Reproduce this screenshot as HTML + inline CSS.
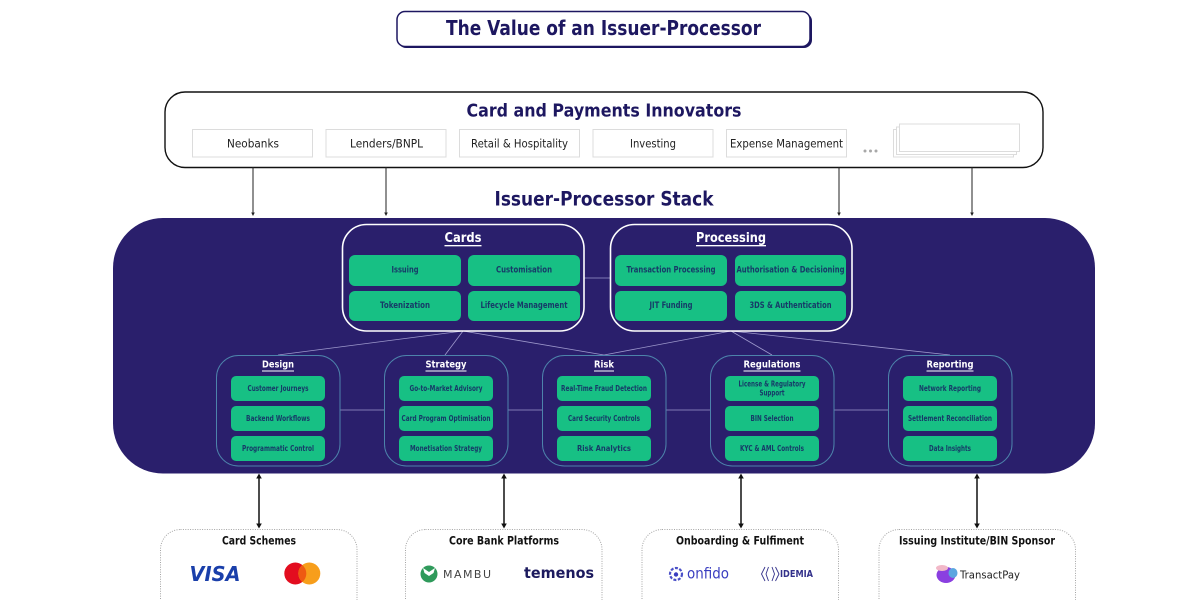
<!DOCTYPE html>
<html lang="en">
<head>
<meta charset="utf-8">
<title>The Value of an Issuer-Processor</title>
<style>
html,body{margin:0;padding:0;background:#fff;width:1200px;height:600px;overflow:hidden}
svg{display:block}
text{font-family:"DejaVu Sans","Liberation Sans",sans-serif;text-anchor:middle;dominant-baseline:central}
.n{fill:#1d1760;font-weight:700}
.s{font-size:11.5px;fill:#222}
.g{font-size:8.500px;font-weight:700;fill:#173a68}
.gs{font-size:7.500px;font-weight:700;fill:#173a68}
.h{fill:#fff;font-weight:700;text-decoration:underline}
.b{font-size:11.500px;font-weight:700;fill:#111}
.w{fill:none;stroke:#fff;stroke-width:1.6}
.t{fill:none;stroke:#4d83ab;stroke-width:1}
.gr{fill:#17c084}
.c{stroke:#9d98cc;stroke-width:.8;fill:none}
.sb{fill:#fff;stroke:#dcdcdc;stroke-width:1}
.d{fill:none;stroke:#a5a5a5;stroke-width:1;stroke-dasharray:1 1.4}
.a{stroke:#222;stroke-width:1}
.k{stroke:#111;stroke-width:1.5}
</style>
</head>
<body>
<svg width="1200" height="600" viewBox="0 0 1200 600" xmlns="http://www.w3.org/2000/svg">
<rect width="1200" height="600" fill="#fff"/>

<!-- Title -->
<rect x="398" y="13" width="414" height="35" rx="8" fill="#1d1760"/>
<rect x="397" y="11.500" width="413" height="35" rx="8" fill="#fff" stroke="#1d1760" stroke-width="1.500"/>
<text x="603.500" y="28" class="n" font-size="20" textLength="315" lengthAdjust="spacingAndGlyphs">The Value of an Issuer-Processor</text>

<!-- Innovators -->
<rect x="165" y="92" width="878" height="75.500" rx="20" fill="#fff" stroke="#111" stroke-width="1.400"/>
<text x="604" y="111" class="n" font-size="18" textLength="275" lengthAdjust="spacingAndGlyphs">Card and Payments Innovators</text>
<rect class="sb" x="192.500" y="129.500" width="120" height="27.500"/>
<rect class="sb" x="326" y="129.500" width="120" height="27.500"/>
<rect class="sb" x="459.500" y="129.500" width="120" height="27.500"/>
<rect class="sb" x="593" y="129.500" width="120" height="27.500"/>
<rect class="sb" x="726.500" y="129.500" width="120" height="27.500"/>
<text x="253" y="143.500" class="s" textLength="52" lengthAdjust="spacingAndGlyphs">Neobanks</text>
<text x="386.500" y="143.500" class="s" textLength="73" lengthAdjust="spacingAndGlyphs">Lenders/BNPL</text>
<text x="519.500" y="143.500" class="s" textLength="97" lengthAdjust="spacingAndGlyphs">Retail &amp; Hospitality</text>
<text x="653" y="143.500" class="s" textLength="46" lengthAdjust="spacingAndGlyphs">Investing</text>
<text x="786.500" y="143.500" class="s" textLength="113" lengthAdjust="spacingAndGlyphs">Expense Management</text>
<circle cx="865" cy="151" r="1.500" fill="#a8a8a8"/><circle cx="870.500" cy="151" r="1.500" fill="#a8a8a8"/><circle cx="876" cy="151" r="1.500" fill="#a8a8a8"/>
<rect class="sb" x="893.500" y="129.500" width="120" height="27.500"/>
<rect class="sb" x="896.500" y="127" width="120" height="27.500"/>
<rect class="sb" x="899.500" y="124" width="120" height="27.500"/>

<!-- Down arrows -->
<g class="a">
<line x1="253" y1="167" x2="253" y2="214"/>
<line x1="386" y1="167" x2="386" y2="214"/>
<line x1="839" y1="167" x2="839" y2="214"/>
<line x1="972" y1="167" x2="972" y2="214"/>
</g>
<g fill="#222">
<path d="M251.200 212.500h3.600L253 216z"/>
<path d="M384.200 212.500h3.600L386 216z"/>
<path d="M837.200 212.500h3.600L839 216z"/>
<path d="M970.200 212.500h3.600L972 216z"/>
</g>

<text x="604" y="199" class="n" font-size="19.500" textLength="219" lengthAdjust="spacingAndGlyphs">Issuer-Processor Stack</text>

<!-- Main stack -->
<rect x="113" y="218" width="982" height="255.500" rx="50" fill="#2a1f6c"/>

<!-- Connectors -->
<g class="c">
<path d="M584 278H610"/>
<path d="M340 410H384M508 410H542M666 410H710M834 410H888"/>
<path d="M463 331L278 355M463 331L445 355M463 331L604 355M731 331L604 355M731 331L772 355M731 331L950 355"/>
</g>

<!-- Cards -->
<rect class="w" x="342.500" y="224.500" width="241.500" height="106.500" rx="24"/>
<text x="463" y="238" class="h" font-size="13.500" textLength="37" lengthAdjust="spacingAndGlyphs">Cards</text>
<rect class="gr" x="349" y="255" width="112" height="31" rx="6"/>
<rect class="gr" x="468" y="255" width="112" height="31" rx="6"/>
<rect class="gr" x="349" y="291" width="112" height="30" rx="6"/>
<rect class="gr" x="468" y="291" width="112" height="30" rx="6"/>
<text x="405" y="270.500" class="g" textLength="27" lengthAdjust="spacingAndGlyphs">Issuing</text>
<text x="524" y="270.500" class="g" textLength="56" lengthAdjust="spacingAndGlyphs">Customisation</text>
<text x="405" y="306" class="g" textLength="50" lengthAdjust="spacingAndGlyphs">Tokenization</text>
<text x="524" y="306" class="g" textLength="87" lengthAdjust="spacingAndGlyphs">Lifecycle Management</text>

<!-- Processing -->
<rect class="w" x="610.500" y="224.500" width="241.500" height="106.500" rx="24"/>
<text x="731" y="238" class="h" font-size="13.500" textLength="70" lengthAdjust="spacingAndGlyphs">Processing</text>
<rect class="gr" x="615" y="255" width="112" height="31" rx="6"/>
<rect class="gr" x="735" y="255" width="111" height="31" rx="6"/>
<rect class="gr" x="615" y="291" width="112" height="30" rx="6"/>
<rect class="gr" x="735" y="291" width="111" height="30" rx="6"/>
<text x="671" y="270.500" class="g" textLength="89" lengthAdjust="spacingAndGlyphs">Transaction Processing</text>
<text x="790.500" y="270.500" class="g" textLength="108" lengthAdjust="spacingAndGlyphs">Authorisation &amp; Decisioning</text>
<text x="671" y="306" class="g" textLength="43" lengthAdjust="spacingAndGlyphs">JIT Funding</text>
<text x="790.500" y="306" class="g" textLength="82" lengthAdjust="spacingAndGlyphs">3DS &amp; Authentication</text>

<!-- Design -->
<rect class="t" x="216.500" y="355.500" width="123.500" height="110.500" rx="22"/>
<text x="278" y="365" class="h" font-size="10" textLength="32" lengthAdjust="spacingAndGlyphs">Design</text>
<rect class="gr" x="231" y="376" width="94" height="25" rx="5"/>
<rect class="gr" x="231" y="406" width="94" height="25" rx="5"/>
<rect class="gr" x="231" y="436" width="94" height="25" rx="5"/>
<text x="278" y="388.500" class="gs" textLength="61" lengthAdjust="spacingAndGlyphs">Customer Journeys</text>
<text x="278" y="418.500" class="gs" textLength="64" lengthAdjust="spacingAndGlyphs">Backend Workflows</text>
<text x="278" y="448.500" class="gs" textLength="72" lengthAdjust="spacingAndGlyphs">Programmatic Control</text>

<!-- Strategy -->
<rect class="t" x="384.500" y="355.500" width="123.500" height="110.500" rx="22"/>
<text x="446" y="365" class="h" font-size="10" textLength="41" lengthAdjust="spacingAndGlyphs">Strategy</text>
<rect class="gr" x="399" y="376" width="94" height="25" rx="5"/>
<rect class="gr" x="399" y="406" width="94" height="25" rx="5"/>
<rect class="gr" x="399" y="436" width="94" height="25" rx="5"/>
<text x="446" y="388.500" class="gs" textLength="73" lengthAdjust="spacingAndGlyphs">Go-to-Market Advisory</text>
<text x="446" y="418.500" class="gs" textLength="89" lengthAdjust="spacingAndGlyphs">Card Program Optimisation</text>
<text x="446" y="448.500" class="gs" textLength="72" lengthAdjust="spacingAndGlyphs">Monetisation Strategy</text>

<!-- Risk -->
<rect class="t" x="542.500" y="355.500" width="123.500" height="110.500" rx="22"/>
<text x="604" y="365" class="h" font-size="10" textLength="20" lengthAdjust="spacingAndGlyphs">Risk</text>
<rect class="gr" x="557" y="376" width="94" height="25" rx="5"/>
<rect class="gr" x="557" y="406" width="94" height="25" rx="5"/>
<rect class="gr" x="557" y="436" width="94" height="25" rx="5"/>
<text x="604" y="388.500" class="gs" textLength="86" lengthAdjust="spacingAndGlyphs">Real-Time Fraud Detection</text>
<text x="604" y="418.500" class="gs" textLength="72" lengthAdjust="spacingAndGlyphs">Card Security Controls</text>
<text x="604" y="448.500" class="gs" textLength="54" lengthAdjust="spacingAndGlyphs">Risk Analytics</text>

<!-- Regulations -->
<rect class="t" x="710.500" y="355.500" width="123.500" height="110.500" rx="22"/>
<text x="772" y="365" class="h" font-size="10" textLength="57" lengthAdjust="spacingAndGlyphs">Regulations</text>
<rect class="gr" x="725" y="376" width="94" height="25" rx="5"/>
<rect class="gr" x="725" y="406" width="94" height="25" rx="5"/>
<rect class="gr" x="725" y="436" width="94" height="25" rx="5"/>
<text x="772" y="384" class="gs" textLength="67" lengthAdjust="spacingAndGlyphs">License &amp; Regulatory</text>
<text x="772" y="393" class="gs" textLength="25" lengthAdjust="spacingAndGlyphs">Support</text>
<text x="772" y="418.500" class="gs" textLength="43" lengthAdjust="spacingAndGlyphs">BIN Selection</text>
<text x="772" y="448.500" class="gs" textLength="64" lengthAdjust="spacingAndGlyphs">KYC &amp; AML Controls</text>

<!-- Reporting -->
<rect class="t" x="888.500" y="355.500" width="123.500" height="110.500" rx="22"/>
<text x="950" y="365" class="h" font-size="10" textLength="47" lengthAdjust="spacingAndGlyphs">Reporting</text>
<rect class="gr" x="903" y="376" width="94" height="25" rx="5"/>
<rect class="gr" x="903" y="406" width="94" height="25" rx="5"/>
<rect class="gr" x="903" y="436" width="94" height="25" rx="5"/>
<text x="950" y="388.500" class="gs" textLength="62" lengthAdjust="spacingAndGlyphs">Network Reporting</text>
<text x="950" y="418.500" class="gs" textLength="84" lengthAdjust="spacingAndGlyphs">Settlement Reconciliation</text>
<text x="950" y="448.500" class="gs" textLength="42" lengthAdjust="spacingAndGlyphs">Data Insights</text>

<!-- Double arrows -->
<g class="k">
<line x1="259" y1="476" x2="259" y2="526"/>
<line x1="504" y1="476" x2="504" y2="526"/>
<line x1="741" y1="476" x2="741" y2="526"/>
<line x1="977" y1="476" x2="977" y2="526"/>
</g>
<g fill="#111">
<path d="M259 473.500l-2.800 5h5.600zM259 528.500l-2.800-5h5.600z"/>
<path d="M504 473.500l-2.800 5h5.600zM504 528.500l-2.800-5h5.600z"/>
<path d="M741 473.500l-2.800 5h5.600zM741 528.500l-2.800-5h5.600z"/>
<path d="M977 473.500l-2.800 5h5.600zM977 528.500l-2.800-5h5.600z"/>
</g>

<!-- Bottom boxes -->
<rect class="d" x="160.500" y="529.500" width="196.500" height="100" rx="20"/>
<rect class="d" x="405.500" y="529.500" width="196.500" height="100" rx="20"/>
<rect class="d" x="642" y="529.500" width="196.500" height="100" rx="20"/>
<rect class="d" x="879" y="529.500" width="196.500" height="100" rx="20"/>
<text x="259" y="540.500" class="b" textLength="74" lengthAdjust="spacingAndGlyphs">Card Schemes</text>
<text x="504" y="540.500" class="b" textLength="110" lengthAdjust="spacingAndGlyphs">Core Bank Platforms</text>
<text x="740" y="540.500" class="b" textLength="128" lengthAdjust="spacingAndGlyphs">Onboarding &amp; Fulfiment</text>
<text x="977" y="540.500" class="b" textLength="156" lengthAdjust="spacingAndGlyphs">Issuing Institute/BIN Sponsor</text>

<!-- Logos -->
<text x="215" y="574" font-size="20" font-weight="700" font-style="italic" fill="#1a3faa" textLength="51" lengthAdjust="spacingAndGlyphs">VISA</text>
<circle cx="295.300" cy="573.500" r="11" fill="#e30d1f"/>
<circle cx="309.300" cy="573.500" r="11" fill="#f79e1b"/>
<path d="M302.300 565a11 11 0 0 1 0 17a11 11 0 0 1 0-17z" fill="#ee5a12"/>

<circle cx="429" cy="574" r="8.500" fill="#2f9a5b"/>
<path d="M423 568l6 4 6-4-1.500 5-4.500 3-4.500-3z" fill="#fff"/>
<text x="467" y="574.500" font-size="11" fill="#444" textLength="48" lengthAdjust="spacing">MAMBU</text>
<text x="559" y="573" font-size="15" font-weight="700" fill="#1c1a5e" textLength="70" lengthAdjust="spacingAndGlyphs">temenos</text>

<circle cx="676" cy="574" r="6" fill="none" stroke="#4a50c8" stroke-width="2.200" stroke-dasharray="3 1.500"/>
<circle cx="676" cy="574.500" r="2.200" fill="#3a3ec0"/>
<text x="708" y="573.500" font-size="15" fill="#3a3ec0" textLength="42" lengthAdjust="spacingAndGlyphs">onfido</text>
<path d="M765 567l-3.500 7 3.500 7M768.500 567l-2.500 7 2.500 7M772 567l2.500 7-2.500 7M775.500 567l3.500 7-3.500 7" fill="none" stroke="#32308a" stroke-width=".9"/>
<text x="796.500" y="574.500" font-size="9.500" font-weight="700" fill="#32308a" textLength="33" lengthAdjust="spacingAndGlyphs">IDEMIA</text>

<ellipse cx="946" cy="575" rx="9.500" ry="8" fill="#8a3fe0"/>
<ellipse cx="942" cy="568" rx="6" ry="3" fill="#f2b8c8"/>
<ellipse cx="953" cy="573" rx="4.500" ry="5" fill="#5ba6e0"/>
<text x="990" y="575" font-size="11" fill="#222" textLength="60" lengthAdjust="spacingAndGlyphs">TransactPay</text>
</svg>
</body>
</html>
